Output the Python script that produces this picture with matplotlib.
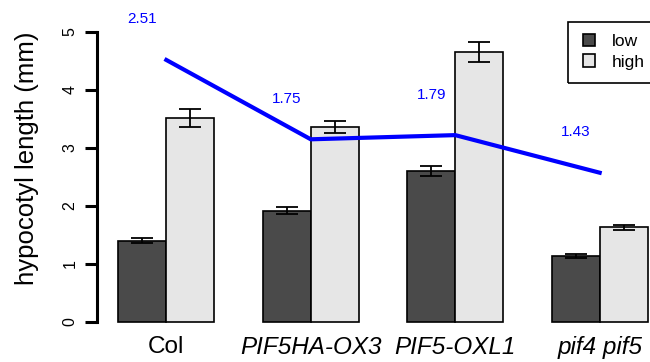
import matplotlib
matplotlib.use("Agg")
import matplotlib.pyplot as plt
import numpy as np
from matplotlib.patches import Patch, Rectangle

plt.rcParams['font.family'] = ['Liberation Sans', 'DejaVu Sans']

genotypes = ["Col", "PIF5HA-OX3", "PIF5-OXL1", "pif4 pif5"]
italic = [False, True, True, True]
low = [1.40, 1.92, 2.60, 1.14]
low_err = [0.04, 0.06, 0.09, 0.04]
high = [3.52, 3.36, 4.65, 1.63]
high_err = [0.15, 0.10, 0.17, 0.05]
ratio = [2.51, 1.75, 1.79, 1.43]
ratio_scale = 1.8
ratio_labels = ["2.51", "1.75", "1.79", "1.43"]

W, H = 650, 362
fig = plt.figure(figsize=(W / 100, H / 100), dpi=100)
left_px, right_px = 97, 669
top_px, bot_px = 20.4, 333.6
ax = fig.add_axes([left_px / W, 1 - bot_px / H, (right_px - left_px) / W, (bot_px - top_px) / H])

n = len(genotypes)
centers = 2 + 3 * np.arange(n)
low_x = centers - 0.5
high_x = centers + 0.5
ekw = dict(ecolor="black", elinewidth=1.3, capsize=8, capthick=1.3)
ax.bar(low_x, low, width=1.0, color="#4a4a4a", edgecolor="black", linewidth=1.2,
       yerr=low_err, error_kw=ekw, label="low", zorder=2)
ax.bar(high_x, high, width=1.0, color="#e6e6e6", edgecolor="black", linewidth=1.2,
       yerr=high_err, error_kw=ekw, label="high", zorder=2)

line_y = np.array(ratio) * ratio_scale
ax.plot(centers, line_y, color="#0000ff", linewidth=3.0, zorder=3, clip_on=False)
for x, y, t in zip(low_x, line_y, ratio_labels):
    ax.text(x, y + 0.7, t, color="#0000ff", fontsize=11, ha="center", va="center")

ax.set_xlim(0.56, 12.44)
ax.set_ylim(-0.2, 5.2)
for s in ["top", "right", "bottom"]:
    ax.spines[s].set_visible(False)
ax.spines["left"].set_bounds(0, 5)
ax.spines["left"].set_linewidth(2.2)
ax.set_yticks(range(6))
ax.set_yticklabels([str(i) for i in range(6)], rotation=90, va="center", fontsize=11.5)
ax.tick_params(axis="y", length=9, width=2.2, pad=5)

ax.set_xticks(centers)
ax.set_xticklabels(genotypes, fontsize=17.5)
for lbl, it in zip(ax.get_xticklabels(), italic):
    if it:
        lbl.set_style("italic")
ax.tick_params(axis="x", length=0, pad=1.5)

fig.text(27 / W, 1 - 158 / H, "hypocotyl length (mm)", rotation=90, fontsize=18.5,
         ha="center", va="center")

# legend frame (R-style topright box, partly cut by the figure edge)
fig.add_artist(Rectangle((568 / W, 1 - 83 / H), 101 / W, 61 / H, transform=fig.transFigure,
                         fill=False, edgecolor="black", linewidth=1.2))
handles = [Patch(facecolor="#4a4a4a", edgecolor="black", linewidth=1.2),
           Patch(facecolor="#e6e6e6", edgecolor="black", linewidth=1.2)]
leg = fig.legend(handles, ["low", "high"], loc="upper left",
                 bbox_to_anchor=(583 / W, 1 - 34 / H), bbox_transform=fig.transFigure,
                 borderaxespad=0, fontsize=12.5, frameon=False,
                 handlelength=0.7, handleheight=0.7, handletextpad=0.95,
                 borderpad=0, labelspacing=0.3)

fig.savefig("out.png", dpi=100)
